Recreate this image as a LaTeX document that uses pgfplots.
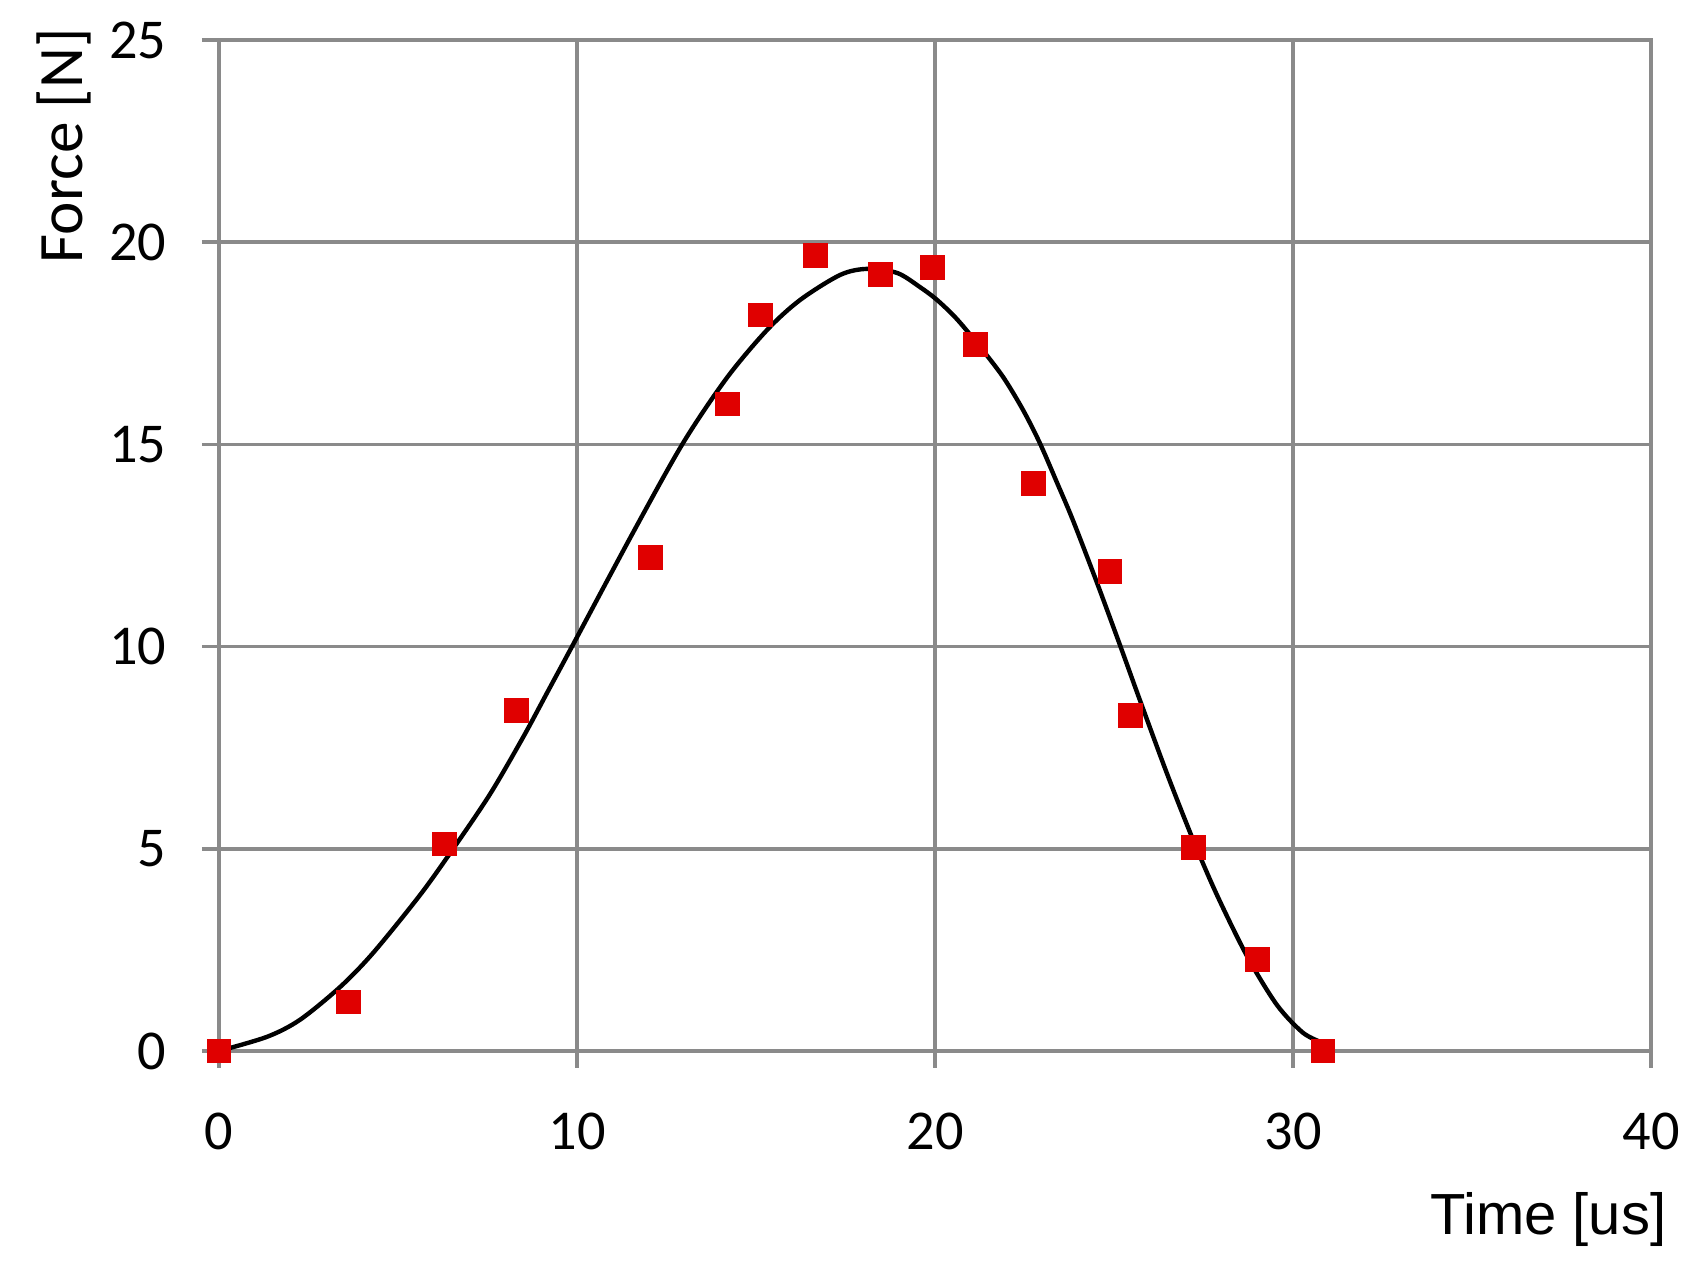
\documentclass[border=0pt]{standalone}
\usepackage{fontspec}
\setmainfont{Carlito}
\newfontfamily\arialfont{Liberation Sans}
\usepackage{pgfplots}
\pgfplotsset{compat=1.18}
\definecolor{gridgray}{HTML}{8A8A8A}
\definecolor{markred}{HTML}{E00000}

\begin{document}
\begin{tikzpicture}
\begin{axis}[
    name=ax,
    scale only axis,
    width=143.2mm, height=101.1mm,
    xmin=0, xmax=40, ymin=0, ymax=25,
    xtick={0,10,20,30,40}, ytick={0,5,10,15,20,25},
    grid=major,
    grid style={gridgray, line width=1.05pt},
    axis line style={gridgray, line width=1.05pt},
    tick style={gridgray, line width=1.05pt},
    major tick length=1.7mm,
    tick align=outside,
    xtick pos=bottom, ytick pos=left,
    clip=false,
    /pgf/number format/assume math mode=true,
    ticklabel style={font=\fontsize{16}{19}\selectfont, inner sep=0pt},
    yticklabel style={anchor=east, xshift=-3.5mm},
    xticklabel style={anchor=north, yshift=-4.4mm},
    every axis x label/.style={at={(rel axis cs:1.0112,-0.182)}, anchor=base east,
        inner sep=0pt, font=\arialfont\fontsize{16.5}{20}\selectfont},
    every axis y label/.style={at={(rel axis cs:-0.095,1.012)}, rotate=90, anchor=base east,
        inner sep=0pt, font=\fontsize{18}{21}\selectfont},
    xlabel={Time [us]},
    ylabel={Force [N]},
]
% fitted curve
\addplot[black, line width=1.25pt, smooth, mark=none] coordinates {
    (0,0) (1.34,0.35) (2.26,0.77) (3.38,1.58) (4.30,2.42) (5.61,3.85)
    (6.54,5.0) (7.57,6.35) (8.49,7.75) (9.16,8.85) (9.89,10.05)
    (11.56,12.81) (12.96,15.03) (14.19,16.65) (15.31,17.83) (16.23,18.57)
    (17.35,19.19) (18.10,19.34) (18.94,19.24) (19.58,18.89) (20.06,18.57)
    (20.61,18.10) (21.26,17.41) (21.90,16.67) (22.46,15.85) (22.93,15.03)
    (23.41,14.05) (23.85,13.13) (24.52,11.59) (25.17,10.03) (25.73,8.66)
    (26.48,6.86) (27.21,5.22) (27.88,3.85) (28.72,2.34) (29.55,1.14)
    (30.28,0.45) (30.84,0.2)
};
% measured points
\addplot[only marks, mark=square*, mark size=1.17mm, markred, mark options={draw=none, fill=markred}] coordinates {
    (0,0) (3.62,1.21) (6.30,5.12) (8.31,8.42) (12.06,12.21) (14.21,16.0)
    (15.13,18.2) (16.67,19.67) (18.47,19.2) (19.93,19.38) (21.14,17.47)
    (22.75,14.04) (24.89,11.85) (25.47,8.29) (27.21,5.04) (29.0,2.26)
    (30.84,0)
};
\end{axis}
% page size matching the reference proportions
\path (ax.south west) ++(-21.9mm,-22.6mm) rectangle ++(169.4mm,127.7mm);
\end{tikzpicture}
\end{document}
